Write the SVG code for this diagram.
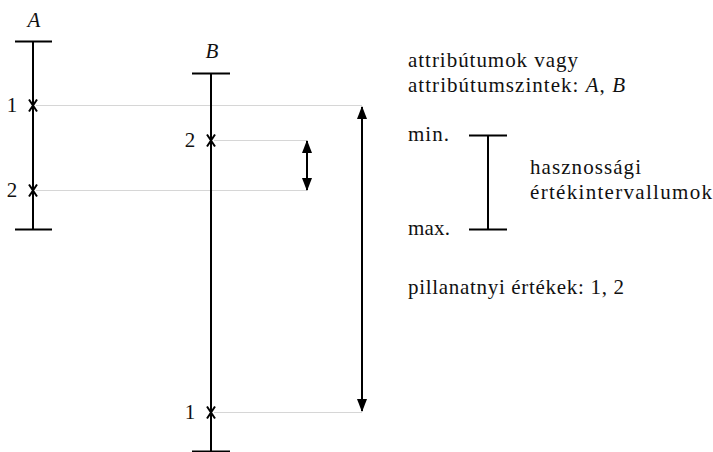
<svg xmlns="http://www.w3.org/2000/svg" width="713" height="452" viewBox="0 0 713 452" font-family="'Liberation Serif', 'DejaVu Serif', serif">
<style>
text{font-family:"Liberation Serif","DejaVu Serif",serif;font-size:21px;fill:#111}
.it{font-style:italic}
.ax{stroke:#000;stroke-width:2;fill:none}
.gl{stroke:#d6d6d6;stroke-width:1.2;fill:none}
.mk{stroke:#000;stroke-width:2;fill:none}
.ar{stroke:#000;stroke-width:2;fill:none}
</style>
<defs>
<marker id="ah" viewBox="0 0 13 10" refX="12" refY="5" markerWidth="13" markerHeight="10" markerUnits="userSpaceOnUse" orient="auto-start-reverse">
<path d="M0,0 L13,5 L0,10 Z" fill="#000"/>
</marker>
<path id="x" d="M-4,-6 L4,6 M4,-6 L-4,6"/>
</defs>
<g id="connectors">
<line class="gl" x1="36" y1="105.5" x2="362" y2="105.5"/>
<line class="gl" x1="36" y1="190.5" x2="307" y2="190.5"/>
<line class="gl" x1="214" y1="140.5" x2="307" y2="140.5"/>
<line class="gl" x1="214" y1="412.5" x2="362" y2="412.5"/>
<line class="ar" x1="362" y1="107" x2="362" y2="411" marker-start="url(#ah)" marker-end="url(#ah)"/>
<line class="ar" x1="307" y1="141" x2="307" y2="190" marker-start="url(#ah)" marker-end="url(#ah)"/>
</g>
<g id="axisA">
<text class="it" x="34" y="27" text-anchor="middle">A</text>
<line class="ax" x1="33" y1="41.5" x2="33" y2="229.5"/>
<line class="ax" x1="15" y1="41.5" x2="52" y2="41.5"/>
<line class="ax" x1="15" y1="229.5" x2="52" y2="229.5"/>
<use href="#x" class="mk" x="33" y="105.5"/>
<use href="#x" class="mk" x="33" y="190.5"/>
<text x="12" y="112" text-anchor="middle">1</text>
<text x="12" y="197" text-anchor="middle">2</text>
</g>
<g id="axisB">
<text class="it" x="212" y="58" text-anchor="middle">B</text>
<line class="ax" x1="211" y1="73.5" x2="211" y2="452"/>
<line class="ax" x1="192" y1="73.5" x2="230" y2="73.5"/>
<line class="ax" x1="192" y1="451.5" x2="230" y2="451.5"/>
<use href="#x" class="mk" x="211" y="140.5"/>
<use href="#x" class="mk" x="211" y="412.5"/>
<text x="190" y="147" text-anchor="middle">2</text>
<text x="190" y="419" text-anchor="middle">1</text>
</g>
<g id="legend">
<text x="408" y="67" textLength="170">attribútumok vagy</text>
<text x="408" y="92" textLength="217">attribútumszintek: <tspan class="it">A</tspan>, <tspan class="it">B</tspan></text>
<text x="408" y="141" textLength="41">min.</text>
<text x="408" y="235" textLength="42">max.</text>
<line class="ax" x1="488" y1="135.5" x2="488" y2="229.5"/>
<line class="ax" x1="469" y1="135.5" x2="507" y2="135.5"/>
<line class="ax" x1="469" y1="229.5" x2="507" y2="229.5"/>
<text x="530" y="174" textLength="111">hasznossági</text>
<text x="530" y="199" textLength="182">értékintervallumok</text>
<text x="408" y="294" textLength="216">pillanatnyi értékek: 1, 2</text>
</g>
</svg>
